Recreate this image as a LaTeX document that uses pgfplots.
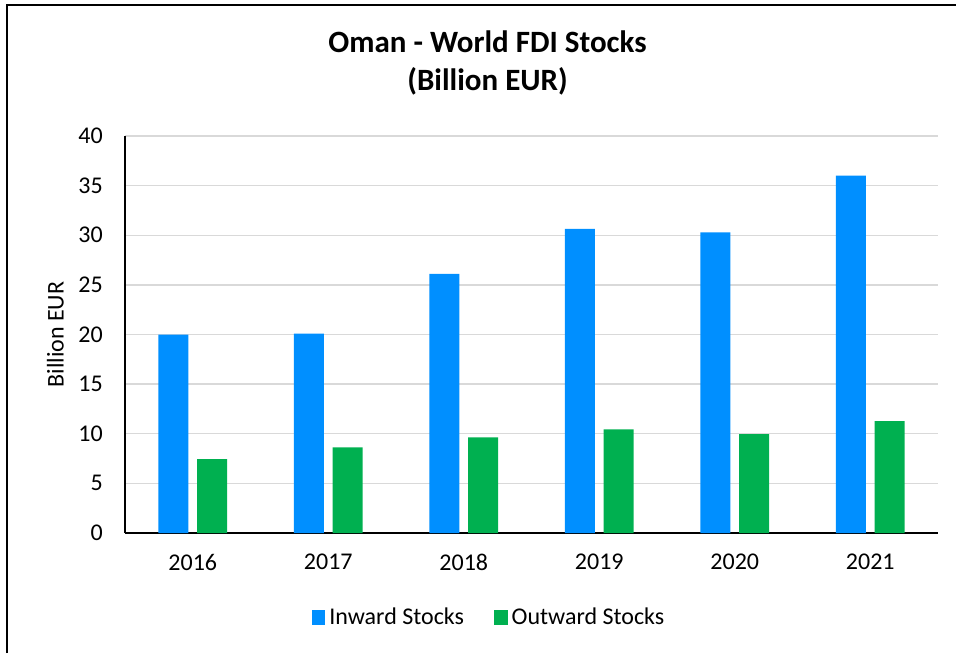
\documentclass[border=0pt]{standalone}
\usepackage{pgfplots}
\pgfplotsset{compat=1.18}
\usepackage{fontspec}
\setmainfont{Carlito}
\definecolor{inblue}{RGB}{0,143,255}
\definecolor{outgreen}{RGB}{0,176,80}
\definecolor{gridgray}{RGB}{217,217,217}
\begin{document}
\begin{tikzpicture}
\useasboundingbox (0,0) rectangle (478pt,326.5pt);
\draw[line width=0.9pt] (3.5pt,0) -- (3.5pt,324pt) -- (478pt,324pt);
\node[anchor=base, font=\fontsize{15.5}{18}\selectfont\bfseries] at (243.75pt,300pt) {Oman - World FDI Stocks};
\node[anchor=base, font=\fontsize{15.5}{18}\selectfont\bfseries] at (243.75pt,281pt) {(Billion EUR)};
\begin{axis}[
  at={(62.5pt,60pt)}, anchor=south west,
  scale only axis, width=406.5pt, height=198.5pt,
  ybar, bar width=15pt, ybar=4.4pt,
  xmin=-0.5, xmax=5.5, ymin=0, ymax=40,
  xtick=data, xticklabels={2016,2017,2018,2019,2020,2021},
  ytick={0,5,...,40},
  major tick length=0pt,
  axis x line=bottom, axis y line=left,
  axis line style={-, line width=0.9pt, black},
  ymajorgrids, grid style={gridgray, line width=0.7pt},
  tick label style={font=\fontsize{12}{14}\selectfont},
  /pgf/number format/assume math mode=true,
  yticklabel style={xshift=-7.6pt},
  xticklabel style={yshift=-7.0pt},
  every axis y label/.style={at={(axis description cs:-0.0855,0.5)}, anchor=center, rotate=90, font=\fontsize{12}{14}\selectfont},
  ylabel={Billion EUR},
  legend style={at={(0.449,-0.213)}, anchor=center, draw=none, font=\fontsize{12}{14}\selectfont, legend columns=2, /tikz/every even column/.append style={column sep=13pt}},
  legend image code/.code={\fill[#1] (0pt,-3.6pt) rectangle (6.8pt,3.9pt);},
]
\addplot[fill=inblue, draw=none] coordinates {(0,20.0) (1,20.1) (2,26.1) (3,30.65) (4,30.3) (5,36.0)};
\addplot[fill=outgreen, draw=none] coordinates {(0,7.45) (1,8.62) (2,9.63) (3,10.43) (4,9.96) (5,11.27)};
\legend{Inward Stocks, Outward Stocks}
\end{axis}
\end{tikzpicture}
\end{document}
